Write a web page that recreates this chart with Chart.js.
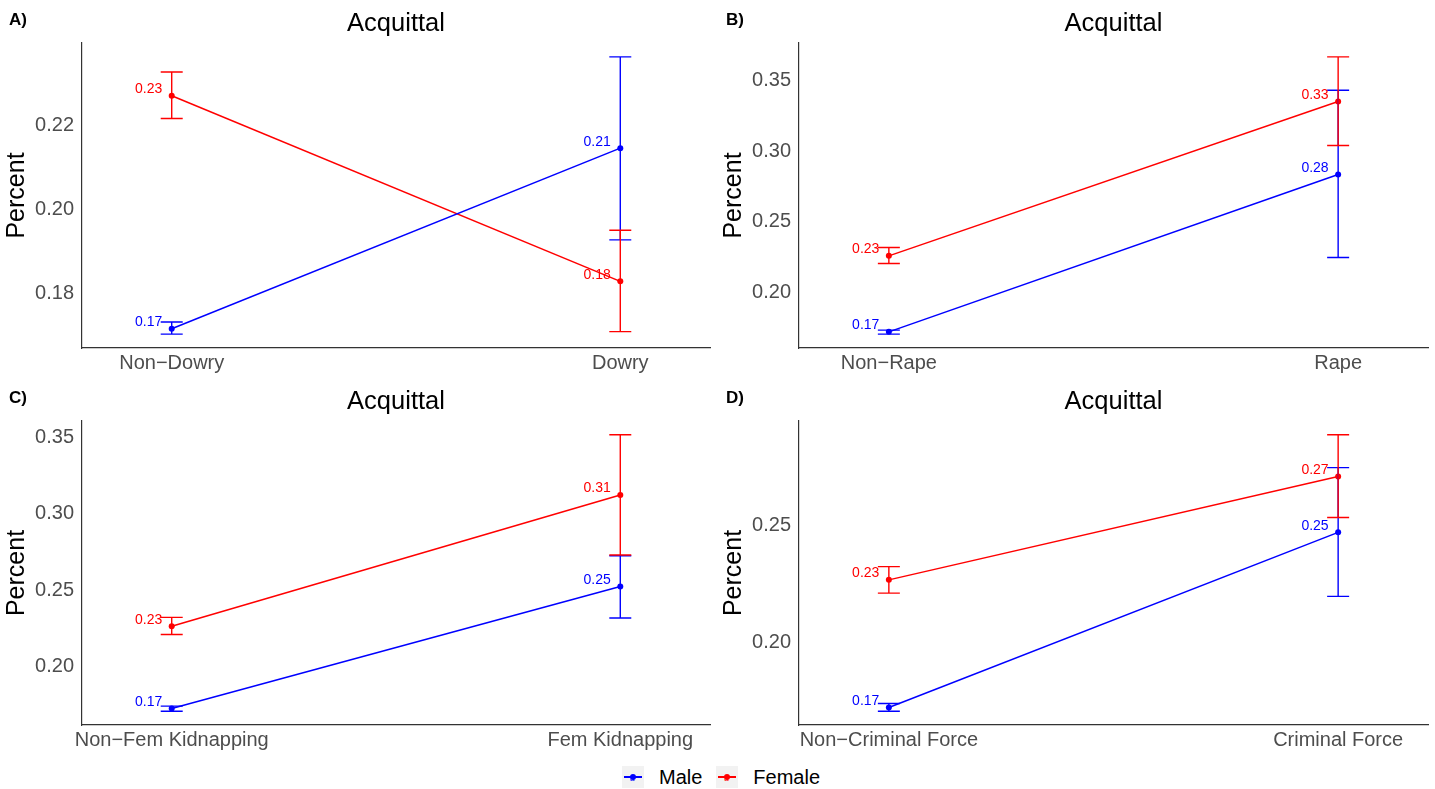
<!DOCTYPE html>
<html>
<head>
<meta charset="utf-8">
<title>Acquittal</title>
<script src="https://cdn.jsdelivr.net/npm/chart.js@4/dist/chart.umd.min.js"></script>
<style>
  html, body { margin: 0; padding: 0; background: #ffffff; width: 1435px; height: 789px; overflow: hidden;
               font-family: "Liberation Sans", Arial, Helvetica, sans-serif; }
  .panel { position: absolute; }
  .legend { position: absolute; top: 766px; left: 622px; height: 22px; display: flex; align-items: center; }
  .key { position: relative; width: 22px; height: 22px; background: #f2f2f2; }
  .key .ln { position: absolute; left: 2px; right: 2px; top: 10px; height: 1.5px; }
  .key .dt { position: absolute; left: 8px; top: 7.5px; width: 6px; height: 6px; border-radius: 50%; }
  .key .tx { position: absolute; left: 8px; top: 9px; font-size: 8px; line-height: 8px; }
  .lbl { font-size: 20px; color: #000; margin: 0 14px 0 15px; line-height: 22px; }
</style>
</head>
<body>
<div class="panel" style="left:0px;top:0px;"><canvas id="chartA" width="717" height="380"></canvas></div>
<div class="panel" style="left:717px;top:0px;"><canvas id="chartB" width="718" height="380"></canvas></div>
<div class="panel" style="left:0px;top:378px;"><canvas id="chartC" width="717" height="380"></canvas></div>
<div class="panel" style="left:717px;top:378px;"><canvas id="chartD" width="718" height="380"></canvas></div>

<div class="legend">
  <div class="key"><div class="ln" style="background:#0000ff"></div><div class="dt" style="background:#0000ff"></div><div class="tx" style="color:#0000ff">a</div></div>
  <span class="lbl">Male</span>
  <div class="key"><div class="ln" style="background:#ff0000"></div><div class="dt" style="background:#ff0000"></div><div class="tx" style="color:#ff0000">a</div></div>
  <span class="lbl">Female</span>
</div>

<script>
// ---- Data -------------------------------------------------------------
const seriesNames = ['Male', 'Female'];
const plotTitle = 'Acquittal';
const yAxisTitle = 'Percent';

// A) Dowry
const categoriesA = ['Non\u2212Dowry', 'Dowry'];
const maleA      = [0.1716, 0.2147];
const maleLowA   = [0.1703, 0.1928];
const maleHighA  = [0.1732, 0.2365];
const femaleA    = [0.2272, 0.1829];
const femaleLowA = [0.2218, 0.1709];
const femaleHighA= [0.2329, 0.1951];
const ticksA     = [0.18, 0.20, 0.22];

// B) Rape
const categoriesB = ['Non\u2212Rape', 'Rape'];
const maleB      = [0.1725, 0.2835];
const maleLowB   = [0.1709, 0.2249];
const maleHighB  = [0.1737, 0.3429];
const femaleB    = [0.2261, 0.3349];
const femaleLowB = [0.2207, 0.3039];
const femaleHighB= [0.2320, 0.3664];
const ticksB     = [0.20, 0.25, 0.30, 0.35];

// C) Female kidnapping
const categoriesC = ['Non\u2212Fem Kidnapping', 'Fem Kidnapping'];
const maleC      = [0.1728, 0.2525];
const maleLowC   = [0.1710, 0.2319];
const maleHighC  = [0.1743, 0.2726];
const femaleC    = [0.2265, 0.3123];
const femaleLowC = [0.2211, 0.2731];
const femaleHighC= [0.2323, 0.3516];
const ticksC     = [0.20, 0.25, 0.30, 0.35];

// D) Criminal force
const categoriesD = ['Non\u2212Criminal Force', 'Criminal Force'];
const maleD      = [0.1720, 0.2472];
const maleLowD   = [0.1704, 0.2197];
const maleHighD  = [0.1737, 0.2750];
const femaleD    = [0.2268, 0.2712];
const femaleLowD = [0.2211, 0.2536];
const femaleHighD= [0.2325, 0.2891];
const ticksD     = [0.20, 0.25];

// ---- Styling ----------------------------------------------------------
const FONT = '"Liberation Sans", Arial, Helvetica, sans-serif';
const MALE_COLOR = '#0000ff';
const FEMALE_COLOR = '#ff0000';

// Error bars, value labels, panel tag and title, drawn through the chart scales
const decorPlugin = {
  id: 'decor',
  afterDatasetsDraw(chart) {
    const ctx = chart.ctx;
    const xs = chart.scales.x, ys = chart.scales.y;
    const bars = chart.options.plugins.decor.bars;
    ctx.save();
    chart.data.datasets.forEach((ds, i) => {
      const b = bars[i];
      ctx.strokeStyle = ds.borderColor;
      ctx.lineWidth = 1.4;
      ds.data.forEach((pt, j) => {
        const px = xs.getPixelForValue(pt.x);
        const yLo = ys.getPixelForValue(b.low[j]);
        const yHi = ys.getPixelForValue(b.high[j]);
        ctx.beginPath();
        ctx.moveTo(px, yLo); ctx.lineTo(px, yHi);
        ctx.moveTo(px - 11, yLo); ctx.lineTo(px + 11, yLo);
        ctx.moveTo(px - 11, yHi); ctx.lineTo(px + 11, yHi);
        ctx.stroke();
        // value label, rounded to two decimals
        ctx.fillStyle = ds.borderColor;
        ctx.font = '14px ' + FONT;
        ctx.textAlign = 'right';
        ctx.textBaseline = 'middle';
        ctx.fillText(pt.y.toFixed(2), px - 9.5, ys.getPixelForValue(pt.y) - 6.5);
      });
    });
    ctx.restore();
  },
  afterDraw(chart) {
    const ctx = chart.ctx;
    const ca = chart.chartArea;
    const o = chart.options.plugins.decor;
    ctx.save();
    ctx.fillStyle = '#000';
    ctx.textBaseline = 'alphabetic';
    ctx.font = 'bold 17px ' + FONT;
    ctx.textAlign = 'left';
    ctx.fillText(o.tag, 9, 25);
    ctx.font = '25.5px ' + FONT;
    ctx.textAlign = 'center';
    ctx.fillText(o.title, (ca.left + ca.right) / 2, 31);
    ctx.restore();
  }
};

function makePanel(canvasId, tag, cats, male, maleLow, maleHigh, female, femaleLow, femaleHigh, yTicks, xHeight) {
  const allLow = maleLow.concat(femaleLow);
  const allHigh = maleHigh.concat(femaleHigh);
  const lo = Math.min(...allLow), hi = Math.max(...allHigh);
  const pad = (hi - lo) * 0.05;

  const toPoints = arr => arr.map((v, i) => ({ x: i, y: v }));
  const ds = (label, arr, color) => ({
    label, data: toPoints(arr),
    borderColor: color, backgroundColor: color,
    borderWidth: 1.5, pointRadius: 3, pointHoverRadius: 3,
    pointBorderWidth: 0, tension: 0, fill: false
  });

  return new Chart(document.getElementById(canvasId), {
    type: 'line',
    data: { datasets: [ds(seriesNames[0], male, MALE_COLOR), ds(seriesNames[1], female, FEMALE_COLOR)] },
    plugins: [decorPlugin],
    options: {
      responsive: false,
      animation: false,
      events: [],
      layout: { padding: { top: 43, right: 7, left: 0, bottom: 0 } },
      plugins: {
        legend: { display: false },
        tooltip: { enabled: false },
        decor: {
          tag, title: plotTitle,
          bars: [{ low: maleLow, high: maleHigh }, { low: femaleLow, high: femaleHigh }]
        }
      },
      scales: {
        x: {
          type: 'linear', min: -0.2, max: 1.2,
          afterBuildTicks: s => { s.ticks = cats.map((c, i) => ({ value: i })); },
          afterFit: s => { s.height = xHeight; },
          grid: { display: false, drawTicks: false },
          border: { display: true, color: '#333333', width: 1.2 },
          ticks: {
            autoSkip: false, maxRotation: 0, padding: 3,
            color: '#4d4d4d', font: { family: FONT, size: 20 },
            callback: v => cats[v]
          }
        },
        y: {
          type: 'linear', min: lo - pad, max: hi + pad,
          afterBuildTicks: s => { s.ticks = yTicks.map(v => ({ value: v })); },
          afterFit: s => { s.width = 82; },
          grid: { display: false, drawTicks: false },
          border: { display: true, color: '#333333', width: 1.2 },
          title: {
            display: true, text: yAxisTitle, color: '#000',
            font: { family: FONT, size: 25 }, padding: { top: 2, bottom: 0 }
          },
          ticks: {
            padding: 8, color: '#4d4d4d', font: { family: FONT, size: 20 },
            callback: v => v.toFixed(2)
          }
        }
      }
    }
  });
}

makePanel('chartA', 'A)', categoriesA, maleA, maleLowA, maleHighA, femaleA, femaleLowA, femaleHighA, ticksA, 32);
makePanel('chartB', 'B)', categoriesB, maleB, maleLowB, maleHighB, femaleB, femaleLowB, femaleHighB, ticksB, 32);
makePanel('chartC', 'C)', categoriesC, maleC, maleLowC, maleHighC, femaleC, femaleLowC, femaleHighC, ticksC, 33);
makePanel('chartD', 'D)', categoriesD, maleD, maleLowD, maleHighD, femaleD, femaleLowD, femaleHighD, ticksD, 33);
</script>
</body>
</html>
